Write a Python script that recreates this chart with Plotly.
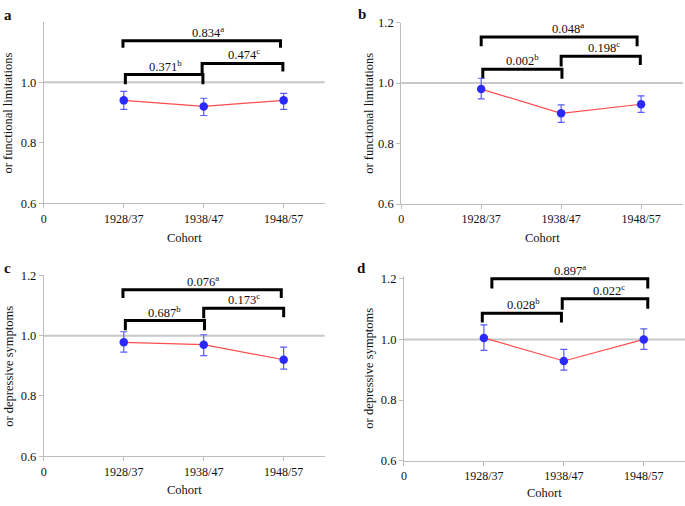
import plotly.graph_objects as go

# ---------------- data ----------------
cohorts = ["1928/37", "1938/47", "1948/57"]
cohort_pos = [1, 2, 3]

est_a = [0.940, 0.920, 0.940]
lo_a = [0.910, 0.890, 0.910]
hi_a = [0.970, 0.947, 0.963]
p_a = ["0.834", "0.371", "0.474"]

est_b = [0.980, 0.900, 0.930]
lo_b = [0.948, 0.870, 0.903]
hi_b = [1.016, 0.928, 0.958]
p_b = ["0.048", "0.002", "0.198"]

est_c = [0.978, 0.970, 0.920]
lo_c = [0.945, 0.934, 0.889]
hi_c = [1.013, 1.003, 0.962]
p_c = ["0.076", "0.687", "0.173"]

est_d = [1.005, 0.929, 1.000]
lo_d = [0.964, 0.899, 0.967]
hi_d = [1.048, 0.967, 1.035]
p_d = ["0.897", "0.028", "0.022"]

sup_letters = ["a", "b", "c"]

# ---------------- styling / layout config ----------------
FONT = "Liberation Serif, Times New Roman, serif"
W, H = 685, 506

# bracket geometry: (x_left, x_right, bar_y, leg_left_end, leg_right_end, label_x)
panels = [
    dict(letter="a", est=est_a, lo=lo_a, hi=hi_a, p=p_a,
         ytitle="or functional limitations",
         xpx=(41, 323), ypx=(202, 15), yrange=[0.6, 1.2], yticks=[0.6, 0.8, 1.0],
         brackets=[(0.99, 2.96, 1.137, 1.114, 1.114, 2.05),
                   (1.02, 1.99, 1.025, 0.993, 0.993, 1.52),
                   (1.98, 2.99, 1.062, 1.030, 1.035, 2.51)],
         title_x=6, letter_xy=(5, 8), cohort_y=238),
    dict(letter="b", est=est_b, lo=lo_b, hi=hi_b, p=p_b,
         ytitle="or functional limitations",
         xpx=(400, 683), ypx=(202.7, 16), yrange=[0.6, 1.2], yticks=[0.6, 0.8, 1.0, 1.2],
         brackets=[(1.00, 2.95, 1.152, 1.122, 1.122, 2.08),
                   (1.02, 2.01, 1.046, 1.014, 1.014, 1.52),
                   (2.00, 2.99, 1.089, 1.055, 1.060, 2.53)],
         title_x=368, letter_xy=(361, 7), cohort_y=238),
    dict(letter="c", est=est_c, lo=lo_c, hi=hi_c, p=p_c,
         ytitle="or depressive symptoms",
         xpx=(41, 323), ypx=(462, 276), yrange=[0.6, 1.2], yticks=[0.6, 0.8, 1.0, 1.2],
         brackets=[(0.99, 2.97, 1.152, 1.125, 1.125, 1.99),
                   (1.02, 2.01, 1.050, 1.018, 1.018, 1.51),
                   (2.00, 3.00, 1.091, 1.058, 1.061, 2.51)],
         title_x=6, letter_xy=(5, 268), cohort_y=497),
    dict(letter="d", est=est_d, lo=lo_d, hi=hi_d, p=p_d,
         ytitle="or depressive symptoms",
         xpx=(402.7, 685), ypx=(466.7, 276.4), yrange=[0.6, 1.21], yticks=[0.6, 0.8, 1.0, 1.2],
         brackets=[(1.10, 3.05, 1.200, 1.168, 1.168, 2.08),
                   (0.98, 1.97, 1.086, 1.056, 1.056, 1.50),
                   (1.98, 3.05, 1.134, 1.098, 1.101, 2.57)],
         title_x=368, letter_xy=(360, 268), cohort_y=500),
]

CAT_PX = 80.3  # pixel spacing between cohorts

fig = go.Figure()
annotations = []
shapes = []
layout_axes = {}

for i, pnl in enumerate(panels):
    n = "" if i == 0 else str(i + 1)
    xa, ya = "x" + n, "y" + n
    x0px, x1px = pnl["xpx"]
    ybot, ytop = pnl["ypx"]
    xmax = (x1px - x0px) / CAT_PX
    layout_axes["xaxis" + n] = dict(
        domain=[x0px / W, x1px / W], range=[0, xmax], anchor=ya,
        tickvals=[0] + cohort_pos, ticktext=["0"] + cohorts,
        showline=True, linecolor="#bdbdbd", linewidth=1,
        ticks="outside", ticklen=4, tickcolor="#bdbdbd",
        showgrid=False, zeroline=False,
        tickfont=dict(family=FONT, size=12, color="#111"),
    )
    layout_axes["yaxis" + n] = dict(
        domain=[1 - ybot / H, 1 - ytop / H], range=pnl["yrange"], anchor=xa,
        tickvals=pnl["yticks"], ticktext=["%.1f" % v for v in pnl["yticks"]],
        showline=True, linecolor="#bdbdbd", linewidth=1,
        ticks="outside", ticklen=4, tickcolor="#bdbdbd",
        showgrid=False, zeroline=False,
        tickfont=dict(family=FONT, size=12.5, color="#111"),
    )
    # reference line at 1.0
    shapes.append(dict(type="line", xref=xa + " domain", yref=ya, x0=0, x1=1, y0=1.0, y1=1.0,
                       line=dict(color="#c8c8c8", width=2), layer="below"))

    # brackets
    for k, (bx0, bx1, bar, legl, legr, lx) in enumerate(pnl["brackets"]):
        fig.add_trace(go.Scatter(
            x=[bx0, bx0, bx1, bx1], y=[legl, bar, bar, legr], xaxis=xa, yaxis=ya,
            mode="lines", line=dict(color="black", width=3), hoverinfo="skip", showlegend=False))
        annotations.append(dict(
            x=lx, y=bar, xref=xa, yref=ya, xanchor="center", yanchor="bottom",
            text=pnl["p"][k] + "<sup>" + sup_letters[k] + "</sup>", showarrow=False,
            yshift=-1, font=dict(family=FONT, size=12.5, color="#111")))

    # estimates with CI
    est, lo, hi = pnl["est"], pnl["lo"], pnl["hi"]
    fig.add_trace(go.Scatter(
        x=cohort_pos, y=est, xaxis=xa, yaxis=ya, mode="lines+markers",
        line=dict(color="#ff4d4d", width=1.2),
        marker=dict(color="#2a2aff", size=8.5),
        error_y=dict(type="data", symmetric=False,
                     array=[h - e for h, e in zip(hi, est)],
                     arrayminus=[e - l for e, l in zip(est, lo)],
                     color="#5a5aff", thickness=1.2, width=3.5),
        showlegend=False, cliponaxis=False))

    # y title
    annotations.append(dict(
        x=pnl["title_x"] / W, y=1 - (ybot + ytop) / 2 / H, xref="paper", yref="paper",
        text=pnl["ytitle"], textangle=-90, showarrow=False, xanchor="center", yanchor="middle",
        font=dict(family=FONT, size=12.5, color="#111")))
    # x title
    annotations.append(dict(
        x=(x0px + x1px) / 2 / W, y=1 - pnl["cohort_y"] / H, xref="paper", yref="paper",
        text="Cohort", showarrow=False, xanchor="center", yanchor="middle",
        font=dict(family=FONT, size=12.5, color="#111")))
    # panel letter
    lxp, lyp = pnl["letter_xy"]
    annotations.append(dict(
        x=lxp / W, y=1 - lyp / H, xref="paper", yref="paper",
        text="<b>" + pnl["letter"] + "</b>", showarrow=False, xanchor="center", yanchor="middle",
        font=dict(family=FONT, size=15, color="#111")))

fig.update_layout(
    width=W, height=H, margin=dict(l=0, r=0, t=0, b=0),
    paper_bgcolor="white", plot_bgcolor="white",
    font=dict(family=FONT, size=12, color="#111"),
    annotations=annotations, shapes=shapes, showlegend=False,
    hovermode=False,
    **layout_axes)

fig.write_html(
    "out.html",
    config={"displayModeBar": False, "staticPlot": True},
    post_script="document.body.style.margin='0';document.body.style.padding='0';"
                "document.body.style.overflow='hidden';")
